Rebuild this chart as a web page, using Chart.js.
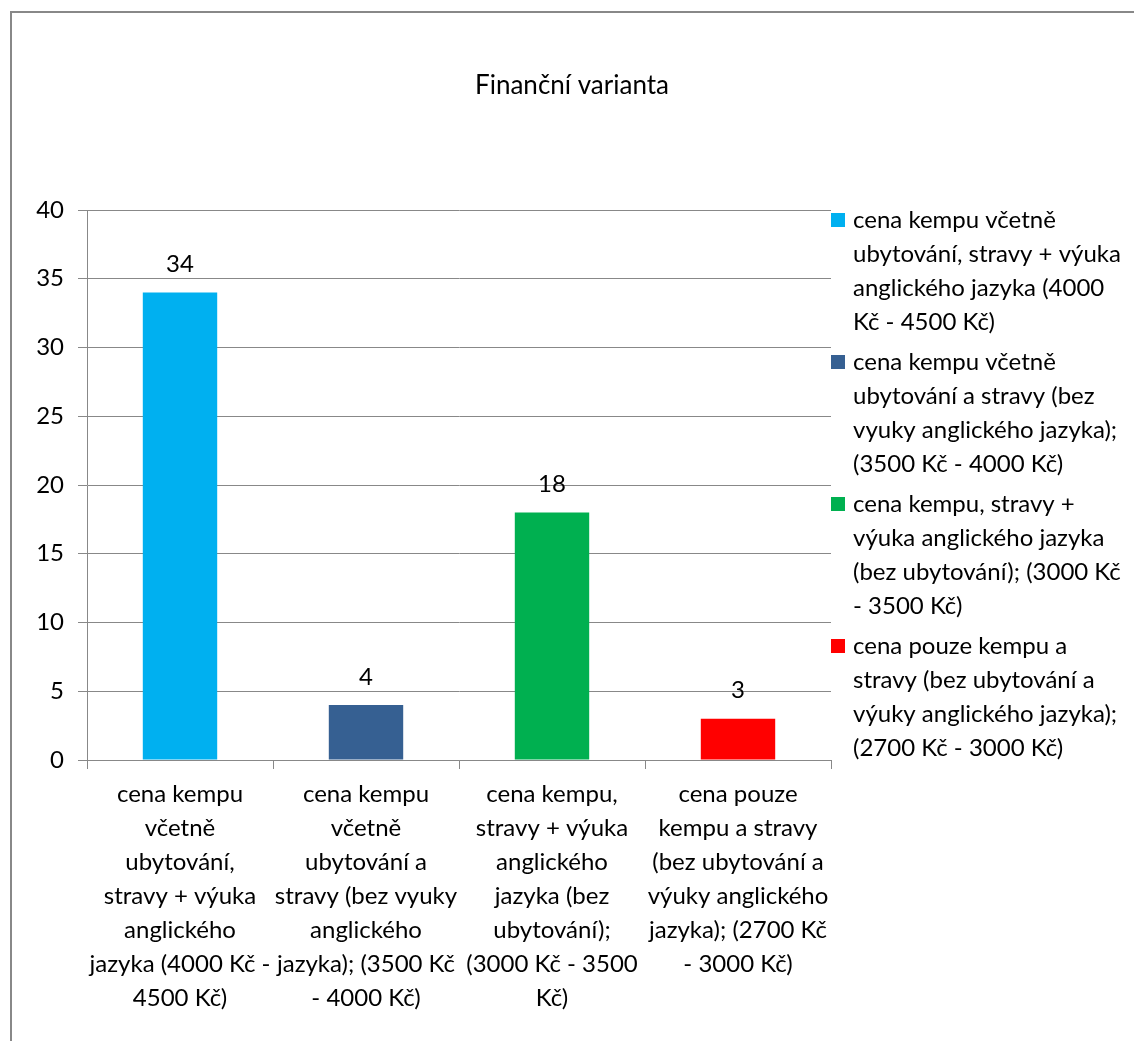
<!DOCTYPE html>
<html>
<head>
<meta charset="utf-8">
<script src="https://cdn.jsdelivr.net/npm/chart.js@4"></script>
<style>
  html, body { margin: 0; padding: 0; background: #fff; }
  #wrap { width: 1134px; height: 1041px; }
</style>
</head>
<body>
<div id="wrap"><canvas id="financeChart" width="1134" height="1041"></canvas></div>
<script>
const chartTitle = 'Finanční varianta';

const categories = [
  ['cena kempu', 'včetně', 'ubytování,', 'stravy + výuka', 'anglického', 'jazyka (4000 Kč -', '4500 Kč)'],
  ['cena kempu', 'včetně', 'ubytování a', 'stravy (bez vyuky', 'anglického', 'jazyka); (3500 Kč', '- 4000 Kč)'],
  ['cena kempu,', 'stravy + výuka', 'anglického', 'jazyka (bez', 'ubytování);', '(3000 Kč - 3500', 'Kč)'],
  ['cena pouze', 'kempu a stravy', '(bez ubytování a', 'výuky anglického', 'jazyka); (2700 Kč', '- 3000 Kč)']
];

const legendLabels = [
  ['cena kempu včetně', 'ubytování, stravy + výuka', 'anglického jazyka (4000', 'Kč - 4500 Kč)'],
  ['cena kempu včetně', 'ubytování a stravy (bez', 'vyuky anglického jazyka);', '(3500 Kč - 4000 Kč)'],
  ['cena kempu, stravy +', 'výuka anglického jazyka', '(bez ubytování); (3000 Kč', '- 3500 Kč)'],
  ['cena pouze kempu a', 'stravy (bez ubytování a', 'výuky anglického jazyka);', '(2700 Kč - 3000 Kč)']
];

const values = [34, 4, 18, 3];
const barColors = ['#00B0F0', '#366092', '#00B050', '#FF0000'];

const yMin = 0;
const yMax = 40;
const yStep = 5;

const FONT = 'Lato, "Open Sans", sans-serif';

// white background, outer frame and title centred on the whole chart box
const framePlugin = {
  id: 'frame',
  beforeDraw(chart) {
    const ctx = chart.ctx;
    ctx.save();
    ctx.fillStyle = '#fff';
    ctx.fillRect(0, 0, chart.width, chart.height);
    ctx.strokeStyle = '#888';
    ctx.lineWidth = 2;
    ctx.strokeRect(11, 12, chart.width + 20, chart.height + 20);
    ctx.font = '26px ' + FONT;
    ctx.fillStyle = '#000';
    ctx.textAlign = 'center';
    ctx.textBaseline = 'middle';
    ctx.fillText(chartTitle, 572, 86);
    ctx.restore();
  }
};

// numbers above the bars
const valueLabels = {
  id: 'valueLabels',
  afterDatasetsDraw(chart) {
    const ctx = chart.ctx;
    const meta = chart.getDatasetMeta(0);
    ctx.save();
    ctx.font = '24px ' + FONT;
    ctx.fillStyle = '#000';
    ctx.textAlign = 'center';
    ctx.textBaseline = 'middle';
    meta.data.forEach((bar, i) => {
      ctx.fillText(String(values[i]), bar.x, bar.y - 28);
    });
    ctx.restore();
  }
};

// wrapped legend on the right
const sideLegend = {
  id: 'sideLegend',
  afterDraw(chart) {
    const ctx = chart.ctx;
    const x = chart.chartArea.right;
    let y = 220;
    const lineH = 34;
    ctx.save();
    ctx.font = '24px ' + FONT;
    ctx.textBaseline = 'middle';
    ctx.textAlign = 'left';
    legendLabels.forEach((lines, i) => {
      ctx.fillStyle = barColors[i];
      ctx.fillRect(x, y - 7, 14, 14);
      ctx.fillStyle = '#000';
      lines.forEach((ln, j) => ctx.fillText(ln, x + 22, y + j * lineH));
      y += lines.length * lineH + 6;
    });
    ctx.restore();
  }
};

new Chart(document.getElementById('financeChart'), {
  type: 'bar',
  data: {
    labels: categories,
    datasets: [{
      label: chartTitle,
      data: values,
      backgroundColor: barColors,
      borderWidth: 0,
      barPercentage: 0.4,
      categoryPercentage: 1
    }]
  },
  options: {
    responsive: false,
    animation: false,
    layout: {
      padding: { left: 0, right: 303, top: 210, bottom: 0 }
    },
    plugins: {
      legend: { display: false },
      tooltip: { enabled: false },
      title: { display: false }
    },
    scales: {
      x: {
        afterFit(scale) { scale.height = 281; },
        border: { display: true, color: '#888', width: 1 },
        grid: {
          display: true,
          drawOnChartArea: false,
          drawTicks: true,
          tickLength: 9,
          color: '#888',
          offset: true
        },
        ticks: {
          color: '#000',
          maxRotation: 0,
          autoSkip: false,
          padding: 8,
          font: { family: FONT, size: 24, lineHeight: '34px' }
        }
      },
      y: {
        min: yMin,
        max: yMax,
        afterFit(scale) { scale.width = 87; },
        border: { display: true, color: '#888', width: 1 },
        grid: {
          color: '#888',
          lineWidth: 1,
          drawTicks: true,
          tickLength: 9
        },
        ticks: {
          stepSize: yStep,
          color: '#000',
          padding: 14,
          font: { family: FONT, size: 24 }
        }
      }
    }
  },
  plugins: [framePlugin, valueLabels, sideLegend]
});
</script>
</body>
</html>
